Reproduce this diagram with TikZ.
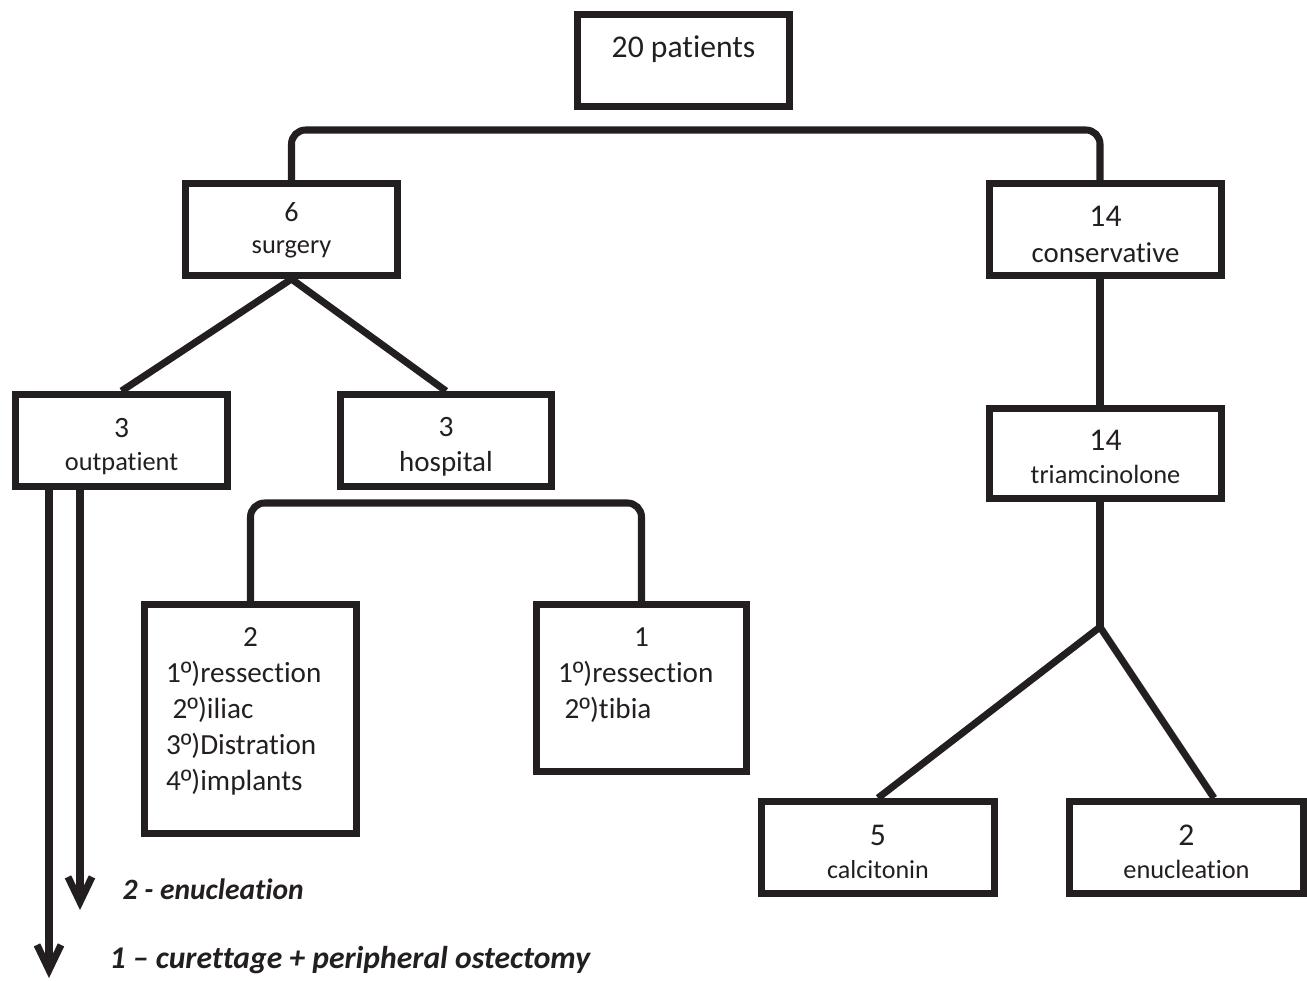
\documentclass[tikz,border=0pt]{standalone}
\usepackage{fontspec}
\setmainfont{Carlito}[Ligatures=NoCommon]
\newfontfamily\ordfont{Liberation Sans}
\usetikzlibrary{positioning,arrows.meta}
\definecolor{FlowInk}{HTML}{231F20}
\newcommand\ordm{{\ordfont º}}

\tikzset{
  stage/.style={draw=FlowInk, text=FlowInk, line width=2pt, align=center, inner sep=2pt},
  link/.style={draw=FlowInk, line width=2pt},
  outcome/.style={font=\fontsize{9}{11}\selectfont\bfseries\itshape, text=FlowInk, anchor=base west, inner sep=0pt},
}

\begin{document}
\begin{tikzpicture}
  \useasboundingbox (0,0) rectangle (13.07,-9.8);
  % top level
  \node[stage, minimum width=2.12cm, minimum height=0.92cm, text height=0pt, text depth=2pt,
        font=\fontsize{9}{11}\selectfont] (patients) at (6.835,-0.605) {20 patients};
  % surgery branch
  \node[stage, minimum width=2.12cm, minimum height=0.92cm, text height=13.5pt, text depth=0pt,
        font=\fontsize{7.5}{9}\selectfont] (surgery) at (2.915,-2.295) {{\fontsize{8}{9}\selectfont 6}\\surgery};
  \node[stage, minimum width=2.12cm, minimum height=0.92cm, text height=16.8pt, text depth=0pt,
        font=\fontsize{7.5}{9.4}\selectfont] (outpat) at (1.215,-4.405) {{\fontsize{8.4}{9.4}\selectfont 3}\\outpatient};
  \node[stage, minimum width=2.11cm, minimum height=0.92cm, text height=17.8pt, text depth=0pt,
        font=\fontsize{8.25}{10}\selectfont] (hosp) at (4.46,-4.405) {{\fontsize{8.4}{10}\selectfont 3}\\hospital};
  \node[stage, minimum width=2.12cm, minimum height=2.29cm, text height=0pt, text depth=41.1pt, text width=1.69cm, align=left,
        font=\fontsize{8.3}{10.2}\selectfont] (hospTwo) at (2.505,-7.19)
        {\centering 2\par\raggedright 1\ordm)ressection\\\hspace*{0.23em}2\ordm)iliac\\3\ordm)Distration\\4\ordm)implants};
  \node[stage, minimum width=2.10cm, minimum height=1.67cm, text height=0pt, text depth=23.5pt, text width=1.67cm, align=left,
        font=\fontsize{8.3}{10.2}\selectfont] (hospOne) at (6.415,-6.88)
        {\centering 1\par\raggedright 1\ordm)ressection\\\hspace*{0.23em}2\ordm)tibia};
  % conservative branch
  \node[stage, minimum width=2.32cm, minimum height=0.92cm, text height=18.7pt, text depth=0pt,
        font=\fontsize{8.2}{10.2}\selectfont] (conserv) at (11.055,-2.295) {{\fontsize{9}{10.2}\selectfont 14}\\conservative};
  \node[stage, minimum width=2.32cm, minimum height=0.90cm, text height=17pt, text depth=0pt,
        font=\fontsize{7.5}{9.4}\selectfont] (triam) at (11.055,-4.535) {{\fontsize{9}{9.4}\selectfont 14}\\triamcinolone};
  \node[stage, minimum width=2.33cm, minimum height=0.92cm, text height=17.5pt, text depth=0pt,
        font=\fontsize{7.4}{9.4}\selectfont] (calcit) at (8.78,-8.475) {{\fontsize{9}{9.4}\selectfont 5}\\calcitonin};
  \node[stage, minimum width=2.34cm, minimum height=0.92cm, text height=17.5pt, text depth=0pt,
        font=\fontsize{7.5}{9.4}\selectfont] (enucl) at (11.865,-8.475) {{\fontsize{9}{9.4}\selectfont 2}\\enucleation};

  \coordinate (fork) at (11.00,-6.27);
  \coordinate (endA) at (0.49,-9.78);
  \coordinate (endB) at (0.80,-9.10);

  % connectors
  \draw[link, rounded corners=4pt] (surgery.north) -- ++(0,0.5) -| (conserv.north -| fork);
  \draw[link] (outpat.north) -- (surgery.south) -- (hosp.north);
  \draw[link, rounded corners=4pt] (hospTwo.north) -- ++(0,0.98) -| (hospOne.north);
  \draw[link] (conserv.south -| fork) -- (triam.north -| fork);
  \draw[link] (triam.south -| fork) -- (fork);
  \draw[link] (calcit.north) -- (fork) -- ([xshift=0.275cm]enucl.north);
  \draw[link, -{Straight Barb[length=2.5mm,width=2.4mm]}] (outpat.south -| endA) -- (endA);
  \draw[link, -{Straight Barb[length=2.5mm,width=2.4mm]}] (outpat.south -| endB) -- (endB);

  \node[outcome, font=\fontsize{8.4}{11}\selectfont\bfseries\itshape] (enucLbl) at (1.22,-8.99) {2 - enucleation};
  \node[outcome] (curetLbl) at (1.09,-9.68) {1 – curettage + peripheral ostectomy};
\end{tikzpicture}
\end{document}
